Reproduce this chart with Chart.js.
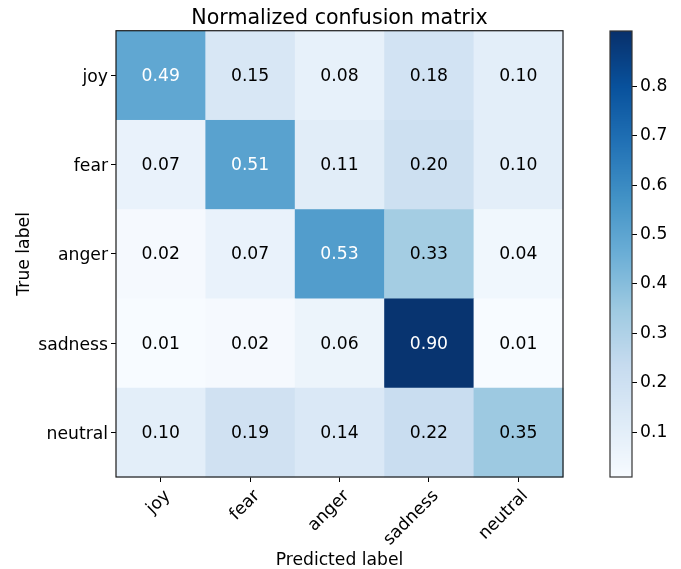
<!DOCTYPE html>
<html>
<head>
<meta charset="utf-8">
<script src="https://cdn.jsdelivr.net/npm/chart.js@4/dist/chart.umd.min.js"></script>
<style>
  html, body { margin: 0; padding: 0; background: #fff; }
  #wrap { position: relative; width: 681px; height: 569px; }
  #wrap canvas { position: absolute; left: 0; top: 0; }
</style>
</head>
<body>
<div id="wrap">
  <canvas id="matrix" width="681" height="569"></canvas>
  <canvas id="colorbar" width="681" height="569"></canvas>
</div>
<script>
// Class names (true labels on rows, predicted labels on columns)
const classes = ['joy', 'fear', 'anger', 'sadness', 'neutral'];

// Row-normalized confusion values, one array per true label
const rowJoy     = [0.49, 0.15, 0.08, 0.18, 0.10];
const rowFear    = [0.07, 0.51, 0.11, 0.20, 0.10];
const rowAnger   = [0.02, 0.07, 0.53, 0.33, 0.04];
const rowSadness = [0.01, 0.02, 0.06, 0.90, 0.01];
const rowNeutral = [0.10, 0.19, 0.14, 0.22, 0.35];

// Colour bar tick labels and colour-scale limits
const colorbarTicks = [0.1, 0.2, 0.3, 0.4, 0.5, 0.6, 0.7, 0.8];
const colorLimits = [0.009, 0.912];

const rows = [rowJoy, rowFear, rowAnger, rowSadness, rowNeutral];

const FONT = 'DejaVu Sans';
const TICK_FONT = { family: FONT, size: 17.2, weight: 'normal' };
const TITLE_FONT = { family: FONT, size: 20.6, weight: 'normal' };

// "Blues" sequential colour map
const BLUES = [
  [247, 251, 255], [222, 235, 247], [198, 219, 239], [158, 202, 225],
  [107, 174, 214], [66, 146, 198], [33, 113, 181], [8, 81, 156], [8, 48, 107]
];
function blues(v) {
  let t = (v - colorLimits[0]) / (colorLimits[1] - colorLimits[0]);
  t = Math.max(0, Math.min(1, t));
  const pos = t * (BLUES.length - 1);
  const i = Math.min(BLUES.length - 2, Math.floor(pos));
  const f = pos - i;
  const a = BLUES[i], b = BLUES[i + 1];
  const c = a.map((ch, k) => Math.round(ch + (b[k] - ch) * f));
  return `rgb(${c[0]},${c[1]},${c[2]})`;
}

// Points of the matrix: x = predicted index, y = true index
const cells = [];
rows.forEach((row, r) => row.forEach((v, c) => cells.push({ x: c, y: r, v })));
const threshold = Math.max(...rows.flat()) / 2;

const heatCells = {
  id: 'heatCells',
  beforeDatasetsDraw(chart) {
    const { ctx, scales: { x, y } } = chart;
    const pts = chart.data.datasets[0].data;
    ctx.save();
    pts.forEach(p => {
      const x0 = x.getPixelForValue(p.x - 0.5), x1 = x.getPixelForValue(p.x + 0.5);
      const y0 = y.getPixelForValue(p.y - 0.5), y1 = y.getPixelForValue(p.y + 0.5);
      ctx.fillStyle = blues(p.v);
      ctx.fillRect(Math.min(x0, x1), Math.min(y0, y1), Math.abs(x1 - x0) + 0.5, Math.abs(y1 - y0) + 0.5);
    });
    ctx.font = `${TICK_FONT.size}px "${FONT}"`;
    ctx.textAlign = 'center';
    ctx.textBaseline = 'middle';
    pts.forEach(p => {
      ctx.fillStyle = p.v > threshold ? '#ffffff' : '#000000';
      ctx.fillText(p.v.toFixed(2), x.getPixelForValue(p.x), y.getPixelForValue(p.y) + 1);
    });
    ctx.restore();
  },
  afterDatasetsDraw(chart) {
    const { ctx, chartArea: a } = chart;
    ctx.save();
    ctx.strokeStyle = '#1a1a1a';
    ctx.lineWidth = 1.2;
    ctx.strokeRect(a.left, a.top, a.right - a.left, a.bottom - a.top);
    ctx.restore();
  }
};

const indexTicks = s => { s.ticks = classes.map((_, i) => ({ value: i })); };
const tickGrid = { drawOnChartArea: false, drawTicks: true, tickLength: 5, tickColor: '#000', tickWidth: 1 };

new Chart(document.getElementById('matrix'), {
  type: 'scatter',
  data: { datasets: [{ data: cells, pointRadius: 0, pointHoverRadius: 0 }] },
  options: {
    responsive: false,
    devicePixelRatio: 1,
    animation: false,
    events: [],
    layout: { padding: { top: 0, right: 118, bottom: 0, left: 0 } },
    plugins: {
      legend: { display: false },
      tooltip: { enabled: false },
      title: {
        display: true,
        text: 'Normalized confusion matrix',
        fullSize: false,
        color: '#000',
        font: TITLE_FONT,
        padding: { top: 6, bottom: 0 }
      }
    },
    scales: {
      x: {
        type: 'linear', min: -0.5, max: 4.5,
        afterBuildTicks: indexTicks,
        afterFit: s => { s.height = 92; },
        ticks: { callback: v => classes[v], autoSkip: false, minRotation: 45, maxRotation: 45, color: '#000', font: TICK_FONT, padding: 4, labelOffset: 7 },
        grid: tickGrid,
        border: { display: false },
        title: { display: true, text: 'Predicted label', color: '#000', font: TICK_FONT, padding: { top: 0, bottom: -2 } }
      },
      y: {
        type: 'linear', min: -0.5, max: 4.5, reverse: true,
        afterBuildTicks: indexTicks,
        afterFit: s => { s.width = 116; },
        ticks: { callback: v => classes[v], autoSkip: false, color: '#000', font: TICK_FONT, padding: 3, labelOffset: 2 },
        grid: tickGrid,
        border: { display: false },
        title: { display: true, text: 'True label', color: '#000', font: TICK_FONT, padding: { top: 14, bottom: 0 } }
      }
    }
  },
  plugins: [heatCells]
});

// Colour bar drawn along its own value scale
const colorStrip = {
  id: 'colorStrip',
  beforeDatasetsDraw(chart) {
    const { ctx, chartArea: a, scales: { y } } = chart;
    ctx.save();
    for (let py = Math.floor(a.top); py < a.bottom; py++) {
      ctx.fillStyle = blues(y.getValueForPixel(py + 0.5));
      ctx.fillRect(a.left, py, a.right - a.left, 1);
    }
    ctx.strokeStyle = '#333';
    ctx.lineWidth = 1.2;
    ctx.strokeRect(a.left, a.top, a.right - a.left, a.bottom - a.top);
    ctx.restore();
  }
};

new Chart(document.getElementById('colorbar'), {
  type: 'scatter',
  data: { datasets: [{ data: [], pointRadius: 0 }] },
  options: {
    responsive: false,
    devicePixelRatio: 1,
    animation: false,
    events: [],
    layout: { padding: { top: 31, right: 0, bottom: 92, left: 610 } },
    plugins: { legend: { display: false }, tooltip: { enabled: false } },
    scales: {
      x: { display: false, min: 0, max: 1 },
      y: {
        type: 'linear', position: 'right',
        min: colorLimits[0], max: colorLimits[1],
        afterBuildTicks: s => { s.ticks = colorbarTicks.map(v => ({ value: v })); },
        afterFit: s => { s.width = 49; },
        ticks: { callback: v => v.toFixed(1), color: '#000', font: TICK_FONT, padding: 3 },
        grid: tickGrid,
        border: { display: false }
      }
    }
  },
  plugins: [colorStrip]
});
</script>
</body>
</html>
